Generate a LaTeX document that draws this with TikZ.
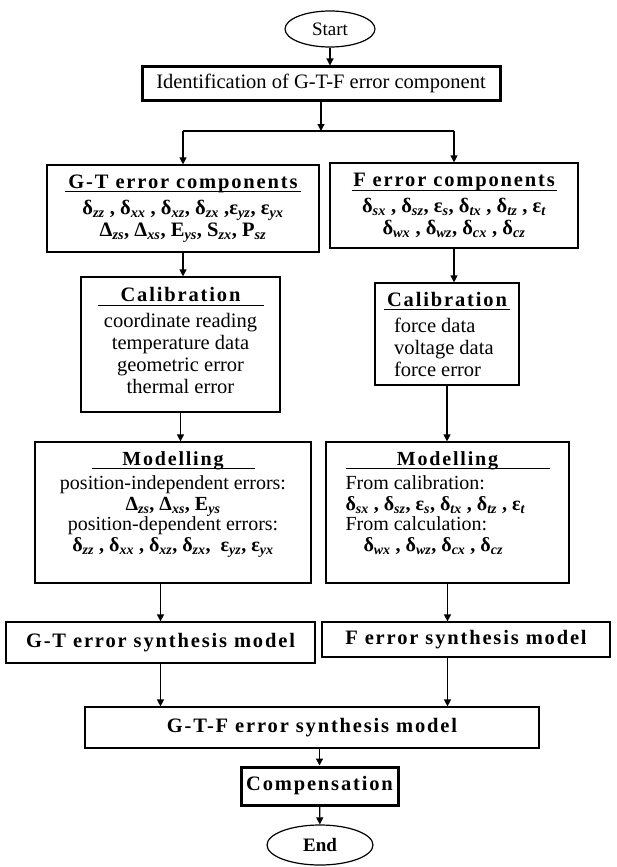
\documentclass[tikz,border=0pt]{standalone}
\usepackage{fontspec}
\setmainfont{Liberation Serif}
\usetikzlibrary{arrows.meta,shapes.geometric}

\newcommand\ttl{\bfseries\addfontfeature{LetterSpace=9}}
\newcommand\sub[1]{\textsubscript{\itshape #1}}
\newcommand\hdr[2]{\makebox[#2]{\ttl #1}\\[\dimexpr4pt-\baselineskip\relax]\rule{#2}{0.9pt}\\}

\tikzset{
  box/.style={draw, line width=1.2pt, inner sep=2pt, align=center,
    font=\fontsize{20.5}{22}\selectfont},
  thickbox/.style={box, line width=3pt},
  term/.style={draw, ellipse, line width=1.2pt, inner sep=0pt,
    font=\fontsize{19}{21}\selectfont},
  tight/.style={font=\fontsize{20}{20.5}\selectfont},
  arr/.style={line width=1.2pt, -{Triangle[length=7pt,width=7pt]}},
  link/.style={line width=1.2pt}
}

\begin{document}
\begin{tikzpicture}[x=1pt, y=-1pt]
  \useasboundingbox (0,0) rectangle (617,867);

  % Start and identification
  \node[term, minimum width=90pt, minimum height=36pt] (start) at (330,29) {Start};
  \node[thickbox, minimum width=358pt, minimum height=33pt] (ident) at (321,83.5)
       {Identification of G-T-F error component};
  \coordinate (split) at (321,131);

  % G-T branch
  \node[box, minimum width=272pt, minimum height=87pt] (gtc) at (183,208.5)
       {\hdr{G-T error components}{236pt}
        {\bfseries δ\sub{zz} , δ\sub{xx} , δ\sub{xz}, δ\sub{zx} ,ε\sub{yz}, ε\sub{yx}}\\
        {\bfseries Δ\sub{zs}, Δ\sub{xs}, E\sub{ys}, S\sub{zx}, P\sub{sz}}};
  \node[box, minimum width=199pt, minimum height=135pt] (calL) at (180.5,344.5)
       {\hdr{Calibration}{166pt}
        coordinate reading\\ temperature data\\ geometric error\\ thermal error\\[-14pt]\mbox{}};
  \node[box, tight, minimum width=276pt, minimum height=141pt] (modL) at (173,512.5)
       {\hdr{Modelling}{163pt}
        position-independent errors:\\
        {\bfseries Δ\sub{zs}, Δ\sub{xs}, E\sub{ys}}\\
        position-dependent errors:\\
        {\bfseries δ\sub{zz} , δ\sub{xx} , δ\sub{xz}, δ\sub{zx}, \ ε\sub{yz}, ε\sub{yx}}\\[2pt]\mbox{}};
  \node[box, minimum width=309pt, minimum height=41pt] (synL) at (160.5,642.5)
       {\ttl G-T error synthesis model};

  % F branch
  \node[box, minimum width=248pt, minimum height=85pt] (fc) at (454,205.5)
       {\hdr{F error components}{205pt}
        {\bfseries δ\sub{sx} , δ\sub{sz}, ε\sub{s}, δ\sub{tx} , δ\sub{tz} , ε\sub{t}}\\
        {\bfseries δ\sub{wx} , δ\sub{wz}, δ\sub{cx} , δ\sub{cz}}};
  \node[box, align=left, minimum width=144pt, minimum height=102pt] (calR) at (447,334)
       {\hdr{Calibration}{126pt}
        \hspace*{10pt}force data\\ \hspace*{10pt}voltage data\\ \hspace*{10pt}force error};
  \node[box, tight, align=left, minimum width=243pt, minimum height=141pt] (modR) at (447.5,512.5)
       {\hdr{Modelling}{204pt}
        From calibration:\\
        {\bfseries δ\sub{sx} , δ\sub{sz}, ε\sub{s}, δ\sub{tx} , δ\sub{tz} , ε\sub{t}}\\
        From calculation:\\
        \hspace*{18pt}{\bfseries δ\sub{wx} , δ\sub{wz}, δ\sub{cx} , δ\sub{cz}}\\[2pt]\mbox{}};
  \node[box, minimum width=288pt, minimum height=35pt] (synR) at (466,639.5)
       {\ttl F error synthesis model};

  % Synthesis, compensation and end
  \node[box, minimum width=454pt, minimum height=41pt] (gtf) at (312,727.5)
       {\ttl G-T-F error synthesis model};
  \node[thickbox, minimum width=157pt, minimum height=38pt] (comp) at (319.5,786)
       {\ttl Compensation};
  \node[term, minimum width=106pt, minimum height=40pt] (end) at (320,845)
       {\bfseries End};

  % Connections
  \draw[arr] (start) -- (start |- ident.north);
  \draw[arr] (ident) -- (split);
  \draw[link] (split -| gtc) -- (split -| fc);
  \draw[arr] (split -| gtc) -- (gtc);
  \draw[arr] (split -| fc) -- (fc);
  \draw[arr] (gtc.south) -- (gtc.south |- calL.north);
  \draw[arr] (calL.south) -- (calL.south |- modL.north);
  \draw[arr] (modL.south -| synL) -- (synL.north);
  \draw[arr] (synL.south) -- (synL.south |- gtf.north);
  \draw[arr] (fc.south) -- (fc.south |- calR.north);
  \draw[arr] (calR.south) -- (calR.south |- modR.north);
  \draw[arr] (modR.south) -- (modR.south |- synR.north);
  \draw[arr] (synR.south -| modR) -- (modR |- gtf.north);
  \draw[arr] (gtf.south -| comp) -- (comp.north);
  \draw[arr] (comp) -- (end);
\end{tikzpicture}
\end{document}
